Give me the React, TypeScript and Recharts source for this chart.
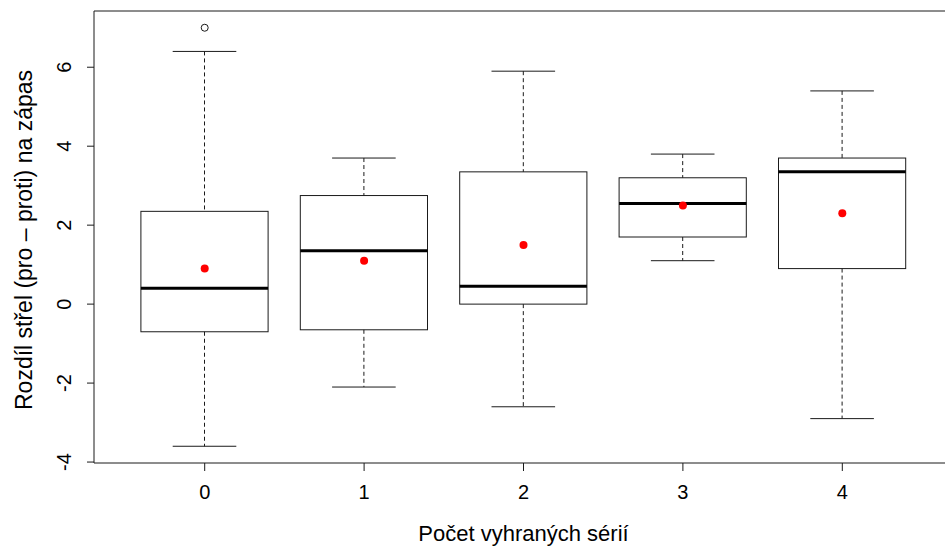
import { JSX } from 'react';
import {
  Bar,
  ComposedChart,
  Label,
  ReferenceLine,
  Scatter,
  XAxis,
  YAxis,
} from 'recharts';

const groups = ['0', '1', '2', '3', '4'];
const lowWhisker = [-3.6, -2.1, -2.6, 1.1, -2.9];
const q1 = [-0.7, -0.65, 0, 1.7, 0.9];
const medians = [0.4, 1.35, 0.45, 2.55, 3.35];
const q3 = [2.35, 2.75, 3.35, 3.2, 3.7];
const highWhisker = [6.4, 3.7, 5.9, 3.8, 5.4];
const means = [0.9, 1.1, 1.5, 2.5, 2.3];
const outliers = [{ name: '0', value: 7 }];
const yTicks = [-4, -2, 0, 2, 4, 6];
const yDomain = [-4.024, 7.424];

const data = groups.map((name, i) => ({
  name,
  low: lowWhisker[i],
  q1: q1[i],
  median: medians[i],
  q3: q3[i],
  high: highWhisker[i],
  mean: means[i],
}));

const FONT = '"Liberation Sans", Arial, sans-serif';
const INK = '#1a1a1a';

// whole box drawn from the [low, high] range bar, other levels mapped linearly
const BoxShape = (props: any): JSX.Element | null => {
  const { x, y, width, height, payload } = props;
  if (!payload) return null;
  const top = Math.min(y, y + height);
  const h = Math.abs(height);
  const k = h / (payload.high - payload.low);
  const py = (v: number) => top + (payload.high - v) * k;
  const cx = x + width / 2;
  const bw = width * 0.8;
  const sw = bw * 0.5;
  return (
    <g>
      <line x1={cx} x2={cx} y1={py(payload.high)} y2={py(payload.q3)} stroke={INK} strokeDasharray='4 3' />
      <line x1={cx} x2={cx} y1={py(payload.q1)} y2={py(payload.low)} stroke={INK} strokeDasharray='4 3' />
      <line x1={cx - sw / 2} x2={cx + sw / 2} y1={py(payload.high)} y2={py(payload.high)} stroke={INK} />
      <line x1={cx - sw / 2} x2={cx + sw / 2} y1={py(payload.low)} y2={py(payload.low)} stroke={INK} />
      <rect
        x={cx - bw / 2}
        y={py(payload.q3)}
        width={bw}
        height={py(payload.q1) - py(payload.q3)}
        fill='none'
        stroke={INK}
      />
      <line x1={cx - bw / 2} x2={cx + bw / 2} y1={py(payload.median)} y2={py(payload.median)} stroke='#000' strokeWidth={3} />
    </g>
  );
};

const YTick = ({ x, y, payload }: any): JSX.Element => (
  <text
    x={x}
    y={y}
    transform={`rotate(-90, ${x}, ${y})`}
    textAnchor='middle'
    fontSize={20}
    fontFamily={FONT}
    fill='#000'
  >
    {payload.value}
  </text>
);

const YTitle = ({ viewBox }: any): JSX.Element => {
  const tx = viewBox.x + 32;
  const ty = viewBox.y + viewBox.height / 2 + 3;
  return (
    <text
      x={tx}
      y={ty}
      transform={`rotate(-90, ${tx}, ${ty})`}
      textAnchor='middle'
      fontSize={23}
      fontFamily={FONT}
      fill='#000'
    >
      Rozdíl střel (pro – proti) na zápas
    </text>
  );
};

export default function App(): JSX.Element {
  return (
    <div style={{ position: 'absolute', left: 0, top: 0, width: 945, height: 548, overflow: 'hidden', background: '#fff' }}>
      <ComposedChart
        width={960}
        height={548}
        data={data}
        margin={{ top: 11, right: 7, bottom: 0, left: 0 }}
        barCategoryGap={0}
      >
        <XAxis
          dataKey='name'
          allowDuplicatedCategory={false}
          height={85}
          padding={{ left: 31, right: 31 }}
          stroke={INK}
          tickSize={8}
          tickMargin={14}
          tick={{ fontSize: 20, fontFamily: FONT, fill: '#000' }}
        >
          <Label
            value='Počet vyhraných sérií'
            position='insideBottom'
            offset={7}
            style={{ fontSize: 22, fontFamily: FONT, fill: '#000' }}
          />
        </XAxis>
        <YAxis
          type='number'
          domain={yDomain}
          ticks={yTicks}
          width={94}
          stroke={INK}
          tickSize={7}
          tickMargin={16}
          tick={<YTick />}
        >
          <Label content={<YTitle />} />
        </YAxis>
        <ReferenceLine y={yDomain[1]} stroke={INK} />
        <Bar
          dataKey={(d: any) => [d.low, d.high]}
          shape={<BoxShape />}
          isAnimationActive={false}
        />
        <Scatter
          dataKey='mean'
          isAnimationActive={false}
          shape={(p: any) => <circle cx={p.cx} cy={p.cy} r={4} fill='#ff0000' />}
        />
        <Scatter
          data={outliers}
          dataKey='value'
          isAnimationActive={false}
          shape={(p: any) => <circle cx={p.cx} cy={p.cy} r={3.5} fill='none' stroke={INK} />}
        />
      </ComposedChart>
    </div>
  );
}
